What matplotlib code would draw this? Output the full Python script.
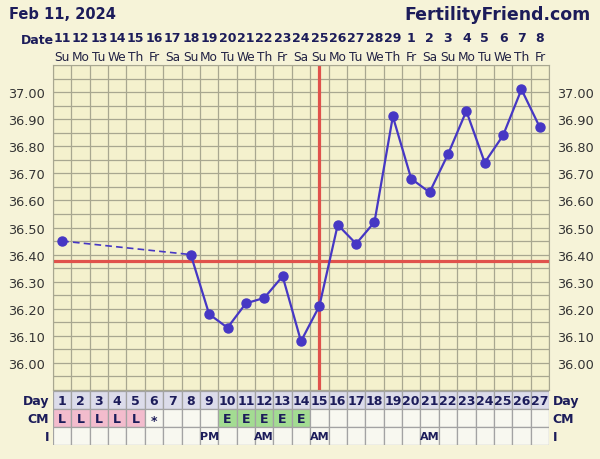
import numpy as np
import matplotlib
matplotlib.use('Agg')
import matplotlib.pyplot as plt
from matplotlib.patches import Rectangle

# chart data
days = list(range(1, 28))
dates = [11, 12, 13, 14, 15, 16, 17, 18, 19, 20, 21, 22, 23, 24, 25, 26, 27, 28, 29,
         1, 2, 3, 4, 5, 6, 7, 8]
weekdays = ['Su', 'Mo', 'Tu', 'We', 'Th', 'Fr', 'Sa'] * 3 + ['Su', 'Mo', 'Tu', 'We', 'Th', 'Fr']
temp_days = [1, 8, 9, 10, 11, 12, 13, 14, 15, 16, 17, 18, 19, 20, 21, 22, 23, 24, 25, 26, 27]
temps = [36.45, 36.40, 36.18, 36.13, 36.22, 36.24, 36.32, 36.08, 36.21, 36.51, 36.44,
         36.52, 36.91, 36.68, 36.63, 36.77, 36.93, 36.74, 36.84, 37.01, 36.87]
coverline = 36.375
ovulation_day = 15
cm = ['L', 'L', 'L', 'L', 'L', '*', '', '', '', 'E', 'E', 'E', 'E', 'E'] + [''] * 13
intercourse = {9: 'PM', 12: 'AM', 15: 'AM', 21: 'AM'}
yticks = [36.00, 36.10, 36.20, 36.30, 36.40, 36.50, 36.60, 36.70, 36.80, 36.90, 37.00]

navy = '#1c1c5a'
bg = '#f6f3d8'
plot_bg = '#f4f1cd'
grid_c = '#a8a790'
line_c = '#4637c4'
red = '#e0524c'

fig = plt.figure(figsize=(6, 4.6), dpi=100, facecolor=bg)

# main temperature chart
ax = fig.add_axes([0.0883, 0.15, 0.8267, 0.7065])
ax.set_facecolor(plot_bg)
ax.set_xlim(0.5, 27.5)
ax.set_ylim(35.90, 37.10)
for x in np.arange(0.5, 28, 1):
    ax.axvline(x, color=grid_c, lw=0.9, zorder=1)
for y in np.arange(35.90, 37.11, 0.05):
    ax.axhline(y, color=grid_c, lw=0.9, zorder=1)
for s in ax.spines.values():
    s.set_color(grid_c)

ax.axhline(coverline, color=red, lw=2.3, zorder=2)
ax.axvline(ovulation_day, color=red, lw=2.3, zorder=2)

# dashed across the gap, solid afterwards
ax.plot(temp_days[:2], temps[:2], color=line_c, lw=1.2, ls=(0, (4, 2.5)), zorder=3)
ax.plot(temp_days[1:], temps[1:], color=line_c, lw=1.6, zorder=3)
ax.plot(temp_days, temps, 'o', color=line_c, ms=6.5, zorder=4)

ax.set_xticks([])
ax.set_yticks(yticks)
ax.set_yticklabels(['%.2f' % v for v in yticks])
ax.tick_params(axis='y', length=0, labelsize=9.3, labelcolor='#333333',
               labelleft=True, labelright=True, pad=6)

# dates and weekdays above
for d, dt, wd in zip(days, dates, weekdays):
    ax.text(d, 37.203, str(dt), ha='center', va='center', fontsize=9, fontweight='bold',
            color=navy, clip_on=False)
    ax.text(d, 37.133, wd, ha='center', va='center', fontsize=8.7, color='#222244',
            clip_on=False)
fig.text(0.034, 0.912, 'Date', ha='left', va='center', fontsize=9, fontweight='bold', color=navy)
fig.text(0.015, 0.968, 'Feb 11, 2024', ha='left', va='center', fontsize=10.5,
         fontweight='bold', color=navy)
fig.text(0.985, 0.968, 'FertilityFriend.com', ha='right', va='center', fontsize=12.5,
         fontweight='bold', color=navy)

# table below
tab = fig.add_axes([0.0883, 0.0304, 0.8267, 0.1174])
tab.set_xlim(0.5, 27.5)
tab.set_ylim(0, 3)
tab.axis('off')
for i, d in enumerate(days):
    tab.add_patch(Rectangle((d - 0.5, 2), 1, 1, fc='#dcdcea', ec='#a3a3a3', lw=0.9))
    tab.text(d, 2.5, str(d), ha='center', va='center', fontsize=9, fontweight='bold', color=navy)
    c = cm[i]
    fc = '#f3bccd' if c == 'L' else ('#a3dc92' if c == 'E' else '#f8f8f0')
    tab.add_patch(Rectangle((d - 0.5, 1), 1, 1, fc=fc, ec='#a3a3a3', lw=0.9))
    if c:
        tab.text(d, 1.5 if c != '*' else 1.35, c, ha='center', va='center', fontsize=9,
                 fontweight='bold', color=navy)
    tab.add_patch(Rectangle((d - 0.5, 0), 1, 1, fc='#f8f8f0', ec='#a3a3a3', lw=0.9))
    if d in intercourse:
        tab.text(d, 0.5, intercourse[d], ha='center', va='center', fontsize=8,
                 fontweight='bold', color=navy)
for row, lab in zip([2.5, 1.5, 0.5], ['Day', 'CM', 'I']):
    tab.text(0.3, row, lab, ha='right', va='center', fontsize=9, fontweight='bold', color=navy)
    tab.text(27.7, row, lab, ha='left', va='center', fontsize=9, fontweight='bold', color=navy)

fig.savefig('out.png', dpi=100, facecolor=bg)
